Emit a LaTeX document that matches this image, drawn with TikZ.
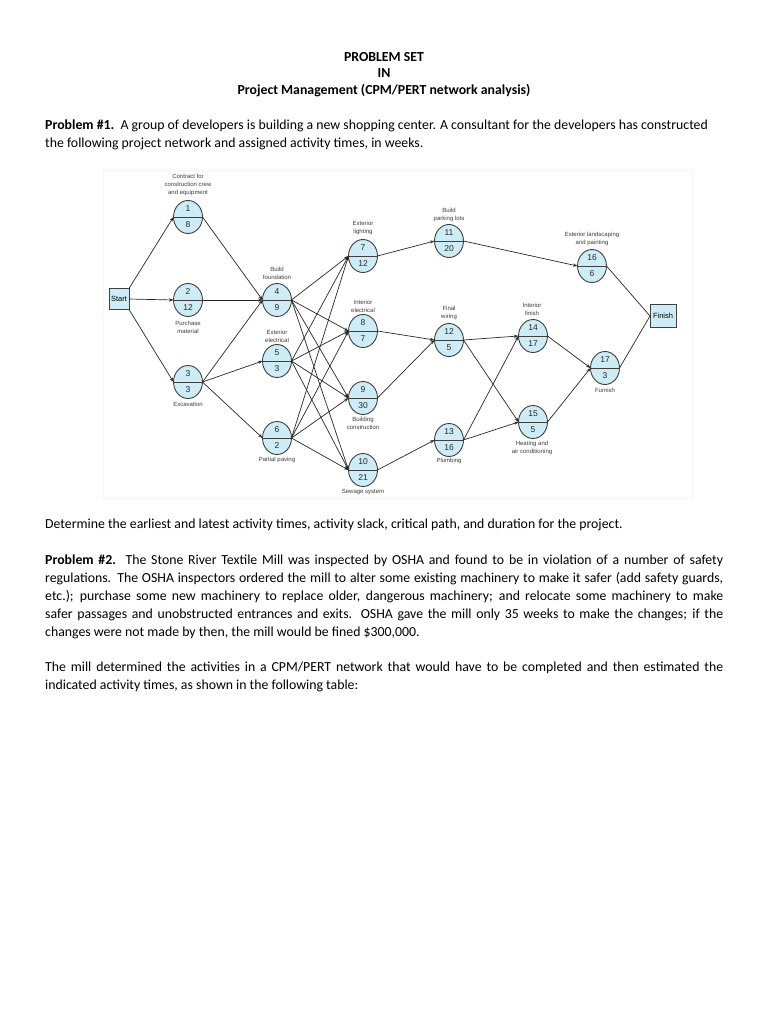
\documentclass[tikz,border=0pt]{standalone}
\usepackage{fontspec}
\setmainfont{Carlito}
\newfontfamily\diagfont{Liberation Sans}
\usetikzlibrary{shapes.geometric,arrows.meta}
\definecolor{nodefill}{RGB}{205,236,245}
\definecolor{edgecol}{RGB}{40,40,40}
\definecolor{labcol}{RGB}{60,60,60}
\newcommand\actnode[5]{%
  \node[ev] (#1) at (#2,#3) {};
  \draw[divline] (#1.west) -- (#1.east);
  \node[num] (#1t) at (#2,#3-8) {#4};
  \node[num] (#1b) at (#2,#3+7.5) {#5};
}
\begin{document}
\begin{tikzpicture}[x=1pt,y=-1pt,
  ev/.style={ellipse, draw=black!75, line width=0.9pt, fill=nodefill, minimum width=29pt, minimum height=33pt, inner sep=0pt, outer sep=0pt},
  divline/.style={draw=black!75, line width=0.9pt},
  boxnode/.style={rectangle, draw=black!75, line width=0.9pt, fill=nodefill, inner sep=0pt, outer sep=0pt, font=\diagfont\fontsize{7.5}{8}\selectfont},
  num/.style={font=\diagfont\fontsize{8.5}{9}\selectfont, text=black!85, inner sep=0pt},
  lab/.style={font=\diagfont\fontsize{6}{8.2}\selectfont, text=labcol, align=center, inner sep=0pt},
  edge/.style={draw=edgecol, line width=0.7pt, -{Stealth[length=4.5pt,width=3.2pt]}},
  plainedge/.style={draw=edgecol, line width=0.7pt},
  body/.style={font=\fontsize{13.8}{18}\selectfont, inner sep=0pt, anchor=mid west},
  head/.style={font=\bfseries\fontsize{13.8}{18}\selectfont, inner sep=0pt, anchor=mid},
]
\useasboundingbox (0,0) rectangle (768,1024);
\fill[white] (0,0) rectangle (768,1024);

% headings
\node[head] (h1) at (384,59) {PROBLEM SET};
\node[head] (h2) at (384,75) {IN};
\node[head] (h3) at (384,92) {Project Management (CPM/PERT network analysis)};

% problem 1
\node[body] (p1a) at (45,127.5) {\textbf{Problem \#1.}\ \ A group of developers is building a new shopping center. A consultant for the developers has constructed};
\node[body] (p1b) at (45,145.5) {the following project network and assigned activity times, in weeks.};

% figure frame
\draw[black!4] (103,170) rectangle (692,498);

% start / finish
\node[boxnode, minimum width=20pt, minimum height=21pt] (start) at (119,299) {Start};
\node[boxnode, minimum width=26pt, minimum height=23pt] (finish) at (663,316) {Finish};

% activities
\actnode{n1}{188}{217}{1}{8}
\actnode{n2}{188}{300}{2}{12}
\actnode{n3}{188}{382}{3}{3}
\actnode{n4}{277}{300}{4}{9}
\actnode{n5}{277}{361}{5}{3}
\actnode{n6}{277}{438}{6}{2}
\actnode{n7}{363}{256}{7}{12}
\actnode{n8}{363}{331}{8}{7}
\actnode{n9}{363}{398}{9}{30}
\actnode{n10}{363}{470}{10}{21}
\actnode{n11}{449}{241}{11}{20}
\actnode{n12}{449}{340}{12}{5}
\actnode{n13}{449}{440}{13}{16}
\actnode{n14}{533}{336}{14}{17}
\actnode{n15}{533}{422}{15}{5}
\actnode{n16}{592}{266}{16}{6}
\actnode{n17}{605}{368}{17}{3}

% labels
\node[lab] (l1) at (188,185) {Contract for\\construction crew\\and equipment};
\node[lab] (l2) at (188,327) {Purchase\\material};
\node[lab] (l3) at (188,404) {Excavation};
\node[lab] (l4) at (277,273) {Build\\foundation};
\node[lab] (l5) at (277,336) {Exterior\\electrical};
\node[lab] (l6) at (277,460) {Partial paving};
\node[lab] (l7) at (363,228) {Exterior\\lighting};
\node[lab] (l8) at (363,306) {Interior\\electrical};
\node[lab] (l9) at (363,423) {Building\\construction};
\node[lab] (l10) at (363,492) {Sewage system};
\node[lab] (l11) at (449,215) {Build\\parking lots};
\node[lab] (l12) at (449,313) {Final\\wiring};
\node[lab] (l13) at (449,461) {Plumbing};
\node[lab] (l14) at (532,309) {Interior\\finish};
\node[lab] (l15) at (532,448) {Heating and\\air conditioning};
\node[lab] (l16) at (592,239) {Exterior landscaping\\and painting};
\node[lab] (l17) at (605,390) {Furnish};

% edges
\draw[edge] (start.north east) -- (n1.west);
\draw[edge] (start.east) -- (n2.west);
\draw[edge] (start.south east) -- (n3.west);
\draw[edge] (n1.east) -- (n4.west);
\draw[edge] (n2.east) -- (n4.west);
\draw[edge] (n3.east) -- (n4.west);
\draw[edge] (n3.east) -- (n5.west);
\draw[edge] (n3.east) -- (n6.west);
\foreach \s in {n4,n5,n6}{
  \foreach \t in {n7,n8,n9,n10}{
    \draw[edge] (\s.east) -- (\t.west);
  }
}
\draw[edge] (n7.east) -- (n11.west);
\draw[edge] (n8.east) -- (n12.west);
\draw[edge] (n9.east) -- (n12.west);
\draw[edge] (n10.east) -- (n13.west);
\draw[edge] (n11.east) -- (n16.west);
\draw[edge] (n12.east) -- (n14.west);
\draw[edge] (n12.east) -- (n15.west);
\draw[edge] (n13.east) -- (n14.west);
\draw[edge] (n13.east) -- (n15.west);
\draw[edge] (n14.east) -- (n17.west);
\draw[edge] (n15.east) -- (n17.west);
\draw[plainedge] (n16.east) -- (finish.west);
\draw[plainedge] (n17.east) -- (finish.west);

% determine
\node[body] (d1) at (45,526.5) {Determine the earliest and latest activity times, activity slack, critical path, and duration for the project.};

% problem 2
\node[body] (p2a) at (45,562.5) {\makebox[678pt][s]{\textbf{Problem \#2.}\ \ The Stone River Textile Mill was inspected by OSHA and found to be in violation of a number of safety}};
\node[body] (p2b) at (45,580.5) {\makebox[678pt][s]{regulations. The OSHA inspectors ordered the mill to alter some existing machinery to make it safer (add safety guards,}};
\node[body] (p2c) at (45,598.5) {\makebox[678pt][s]{etc.); purchase some new machinery to replace older, dangerous machinery; and relocate some machinery to make}};
\node[body] (p2d) at (45,616.5) {\makebox[678pt][s]{safer passages and unobstructed entrances and exits. OSHA gave the mill only 35 weeks to make the changes; if the}};
\node[body] (p2e) at (45,634.5) {changes were not made by then, the mill would be fined \$300,000.};

\node[body] (p3a) at (45,669.5) {\makebox[678pt][s]{The mill determined the activities in a CPM/PERT network that would have to be completed and then estimated the}};
\node[body] (p3b) at (45,687.5) {indicated activity times, as shown in the following table:};
\end{tikzpicture}
\end{document}
